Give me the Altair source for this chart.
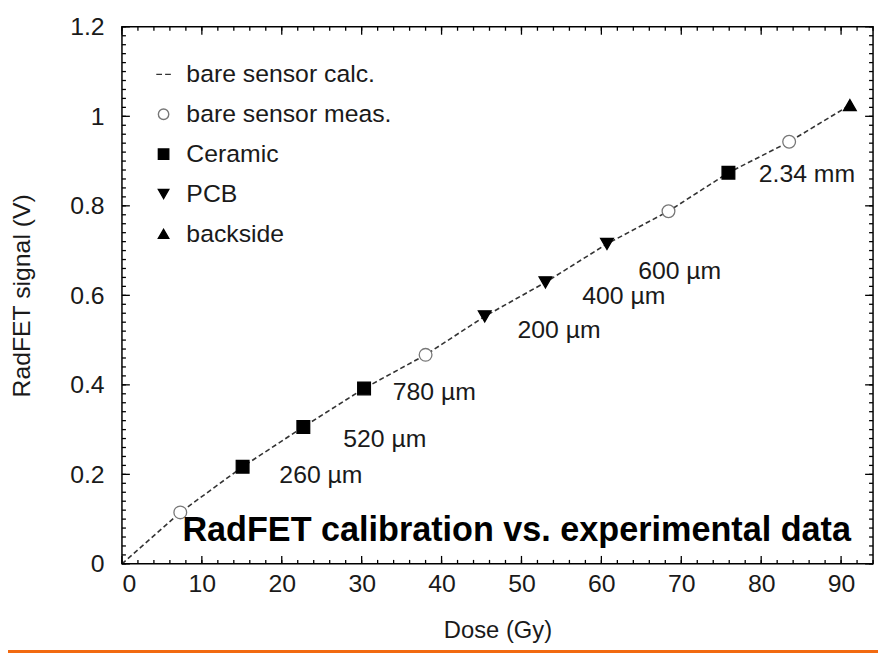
import altair as alt
import pandas as pd

# ---- data ----
calc_dose = [0, 7.3, 15.1, 22.7, 30.3, 38.0, 45.4, 53.0, 60.7, 68.4, 75.9, 83.5, 91.1]
calc_signal = [0, 0.115, 0.217, 0.306, 0.392, 0.467, 0.553, 0.629, 0.715, 0.788, 0.874, 0.943, 1.025]

meas_dose = [7.3, 38.0, 68.4, 83.5]
meas_signal = [0.115, 0.467, 0.788, 0.943]

ceramic_dose = [15.1, 22.7, 30.3, 75.9]
ceramic_signal = [0.217, 0.306, 0.392, 0.874]

pcb_dose = [45.4, 53.0, 60.7]
pcb_signal = [0.553, 0.629, 0.715]

back_dose = [91.1]
back_signal = [1.025]

series_names = ["bare sensor calc.", "bare sensor meas.", "Ceramic", "PCB", "backside"]

ann_text = ["2.34 mm", "600 µm", "400 µm", "200 µm", "780 µm", "520 µm", "260 µm"]
ann_dose = [79.7, 64.6, 57.6, 49.5, 33.9, 27.7, 19.7]
ann_signal = [0.870, 0.655, 0.598, 0.522, 0.383, 0.279, 0.199]

title_text = ["RadFET calibration vs. experimental data"]
title_dose = [49.4]
title_signal = [0.073]

x_major = list(range(0, 100, 10))
x_minor = list(range(0, 95, 2))
y_major = [0, 0.2, 0.4, 0.6, 0.8, 1.0, 1.2]
y_minor = [round(i * 0.02, 2) for i in range(61)]

# ---- tables ----
calc_df = pd.DataFrame({"dose": calc_dose, "signal": calc_signal})
pts_df = pd.concat([
    pd.DataFrame({"dose": meas_dose, "signal": meas_signal, "series": series_names[1]}),
    pd.DataFrame({"dose": ceramic_dose, "signal": ceramic_signal, "series": series_names[2]}),
    pd.DataFrame({"dose": pcb_dose, "signal": pcb_signal, "series": series_names[3]}),
    pd.DataFrame({"dose": back_dose, "signal": back_signal, "series": series_names[4]}),
], ignore_index=True)
leg_df = pd.DataFrame({"series": series_names, "row": list(range(len(series_names)))})
ann_df = pd.DataFrame({"dose": ann_dose, "signal": ann_signal, "label": ann_text})
title_df = pd.DataFrame({"dose": title_dose, "signal": title_signal, "label": title_text})

W, H = 758, 542
FONT = "Liberation Sans"
TXT = "#1a1a1a"

xs = alt.Scale(domain=[0, 94], nice=False, zero=False)
ys = alt.Scale(domain=[0, 1.2], nice=False, zero=False)
legend_rows = alt.Scale(domain=[0, 4], range=[48, 209])

x_axis = alt.Axis(values=x_major, format="d", grid=False, ticks=False, domain=False,
                  labelFontSize=25, labelPadding=8, labelColor=TXT, labelFont=FONT,
                  title="Dose (Gy)", titleFontSize=24, titleFont=FONT, titleColor=TXT,
                  titleFontWeight="normal", titlePadding=22)
y_axis = alt.Axis(values=y_major, format="~g", grid=False, ticks=False, domain=False,
                  labelFontSize=25, labelPadding=18, labelColor=TXT, labelFont=FONT,
                  title="RadFET signal (V)", titleFontSize=25, titleFont=FONT, titleColor=TXT,
                  titleFontWeight="normal", titlePadding=36)

X = lambda f: alt.X(f, scale=xs, axis=x_axis)
Y = lambda f: alt.Y(f, scale=ys, axis=None)

line = alt.Chart(calc_df).mark_line(color="#333333", strokeWidth=1.6, strokeDash=[5, 3]).encode(
    x=alt.X("dose:Q", scale=xs, axis=x_axis),
    y=alt.Y("signal:Q", scale=ys, axis=y_axis),
)

shape_path_dash = "M-1.4,0L-0.3,0M0.3,0L1.4,0"
shape_enc = alt.Shape("series:N", legend=None,
                      scale=alt.Scale(domain=series_names,
                                      range=[shape_path_dash, "circle", "square", "triangle-down", "triangle-up"]))
fill_enc = alt.Fill("series:N", legend=None,
                    scale=alt.Scale(domain=series_names,
                                    range=["transparent", "white", "black", "black", "black"]))
stroke_enc = alt.Stroke("series:N", legend=None,
                        scale=alt.Scale(domain=series_names,
                                        range=["#333333", "#777777", "black", "black", "black"]))

points = alt.Chart(pts_df).mark_point(opacity=1, strokeWidth=1.3, size=165).encode(
    x=X("dose:Q"), y=Y("signal:Q"), shape=shape_enc, fill=fill_enc, stroke=stroke_enc,
)

leg_sym = alt.Chart(leg_df).mark_point(opacity=1, strokeWidth=1.4, size=110).encode(
    x=alt.value(42), y=alt.Y("row:Q", scale=legend_rows, axis=None),
    shape=shape_enc, fill=fill_enc, stroke=stroke_enc,
)
leg_txt = alt.Chart(leg_df).mark_text(align="left", baseline="middle", fontSize=25, font=FONT, color=TXT).encode(
    x=alt.value(65), y=alt.Y("row:Q", scale=legend_rows, axis=None), text="series:N",
)

ann = alt.Chart(ann_df).mark_text(align="left", baseline="middle", fontSize=25, font=FONT, color=TXT).encode(
    x=X("dose:Q"), y=Y("signal:Q"), text="label:N")

big = alt.Chart(title_df).mark_text(align="center", baseline="middle", fontSize=34.5, fontWeight="bold",
                                    font="Liberation Sans", color="black").encode(
    x=X("dose:Q"), y=Y("signal:Q"), text="label:N")

xmaj_df = pd.DataFrame({"v": x_major})
xmin_df = pd.DataFrame({"v": x_minor})
ymaj_df = pd.DataFrame({"v": y_major})
ymin_df = pd.DataFrame({"v": y_minor})

def xticks(df, length):
    b = alt.Chart(df).mark_rule(color="black", strokeWidth=1.3).encode(
        x=X("v:Q"), y=alt.value(H), y2=alt.value(H - length))
    t = alt.Chart(df).mark_rule(color="black", strokeWidth=1.3).encode(
        x=X("v:Q"), y=alt.value(0), y2=alt.value(length))
    return [b, t]

def yticks(df, length):
    l = alt.Chart(df).mark_rule(color="black", strokeWidth=1.3).encode(
        y=Y("v:Q"), x=alt.value(0), x2=alt.value(length))
    r = alt.Chart(df).mark_rule(color="black", strokeWidth=1.3).encode(
        y=Y("v:Q"), x=alt.value(W), x2=alt.value(W - length))
    return [l, r]

frame_bottom = alt.Chart(pd.DataFrame({"v": [0]})).mark_rule(color="#f26a10", strokeWidth=3).encode(
    x=alt.value(-115), x2=alt.value(W + 5), y=alt.value(H + 88.5))

layers = ([line] + xticks(xmin_df, 4) + xticks(xmaj_df, 8) + yticks(ymin_df, 4) + yticks(ymaj_df, 8)
          + [points, ann, big, leg_sym, leg_txt, frame_bottom])

chart = alt.layer(*layers).resolve_scale(y="independent").properties(
    width=W, height=H,
    autosize=alt.AutoSizeParams(type="none"),
    padding={"left": 115, "top": 16, "right": 5, "bottom": 90},
    background="white",
).configure_view(stroke="black", strokeWidth=1.5)

chart.save("out.html", embed_options={"renderer": "svg", "actions": False})
